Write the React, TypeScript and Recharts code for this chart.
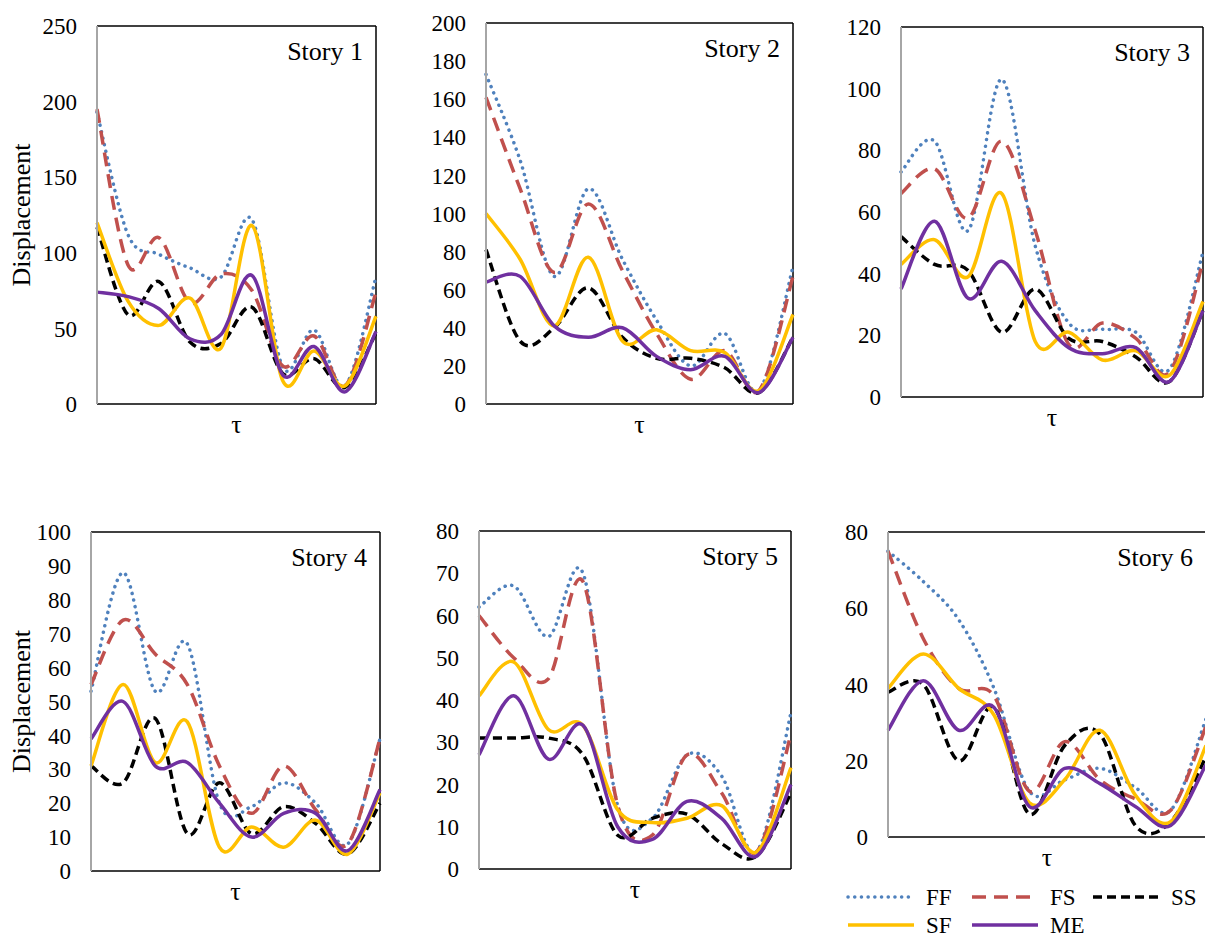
import React from 'react';
import { LineChart, Line, XAxis, YAxis, ReferenceLine } from 'recharts';

const FONT = '"Liberation Serif", "Times New Roman", serif';

const STORIES = ['Story 1', 'Story 2', 'Story 3', 'Story 4', 'Story 5', 'Story 6'];
const SERIES = ['FF', 'FS', 'SS', 'SF', 'ME'];

// values per story (rows), 10 points along τ
const FF = [
  [193, 112, 99, 90, 84, 122, 24, 49, 12, 84],
  [173, 128, 67, 113, 76, 44, 20, 37, 7, 72],
  [73, 83, 54, 103, 49, 24, 22, 21, 9, 47],
  [53, 88, 53, 67, 20, 19, 26, 20, 8, 39],
  [62, 67, 55, 70, 15, 12, 27, 22, 4, 37],
  [75, 67, 57, 39, 12, 15, 18, 13, 7, 31],
];
const FS = [
  [195, 92, 110, 67, 86, 75, 25, 45, 12, 74],
  [161, 113, 69, 105, 70, 37, 13, 28, 7, 67],
  [66, 74, 58, 83, 54, 17, 24, 19, 8, 44],
  [55, 74, 64, 55, 31, 17, 31, 18, 8, 39],
  [60, 50, 45, 68, 15, 8, 27, 18, 4, 32],
  [75, 52, 39, 37, 12, 25, 15, 10, 7, 29],
];
const SS = [
  [117, 59, 81, 41, 40, 64, 20, 30, 11, 47],
  [81, 33, 40, 61, 35, 24, 24, 19, 6, 35],
  [52, 43, 41, 21, 35, 19, 18, 13, 5, 28],
  [31, 26, 45, 11, 26, 11, 19, 14, 5, 20],
  [31, 31, 31, 27, 8, 12, 13, 6, 3, 18],
  [38, 40, 20, 34, 6, 24, 27, 3, 4, 21],
];
const SF = [
  [120, 68, 52, 70, 37, 118, 15, 35, 12, 58],
  [100, 76, 41, 77, 33, 39, 28, 27, 7, 47],
  [43, 51, 39, 66, 18, 21, 12, 15, 7, 31],
  [31, 55, 32, 44, 7, 13, 7, 15, 5, 23],
  [41, 49, 33, 34, 14, 11, 12, 15, 4, 24],
  [39, 48, 39, 32, 9, 15, 28, 11, 4, 24],
];
const ME = [
  [74, 71, 63, 43, 46, 85, 19, 38, 8, 48],
  [64, 67, 41, 35, 40, 25, 18, 25, 6, 35],
  [35, 57, 32, 44, 28, 16, 14, 16, 5, 28],
  [39, 50, 31, 32, 20, 10, 17, 17, 6, 24],
  [27, 41, 26, 34, 10, 7, 16, 12, 3, 20],
  [28, 41, 28, 34, 8, 18, 14, 8, 3, 19],
];

const Y_TICKS = [
  [0, 50, 100, 150, 200, 250],
  [0, 20, 40, 60, 80, 100, 120, 140, 160, 180, 200],
  [0, 20, 40, 60, 80, 100, 120],
  [0, 10, 20, 30, 40, 50, 60, 70, 80, 90, 100],
  [0, 10, 20, 30, 40, 50, 60, 70, 80],
  [0, 20, 40, 60, 80],
];

const VALUES: Record<string, number[][]> = { FF, FS, SS, SF, ME };

const STYLE: Record<string, { stroke: string; dash?: string; cap?: 'round' | 'butt' }> = {
  FF: { stroke: '#4F81BD', dash: '0.1 6.6', cap: 'round' },
  FS: { stroke: '#C0504D', dash: '14 8', cap: 'butt' },
  SS: { stroke: '#000000', dash: '9 5', cap: 'butt' },
  SF: { stroke: '#FFC000' },
  ME: { stroke: '#7030A0' },
};

// plot-area box of every panel, in page pixels
const PANELS = [
  { left: 97, right: 376, top: 26, bottom: 404, yLabel: true },
  { left: 486, right: 793, top: 23, bottom: 404, yLabel: false },
  { left: 901, right: 1203, top: 27, bottom: 397, yLabel: false },
  { left: 91, right: 380, top: 532, bottom: 871, yLabel: true },
  { left: 479, right: 791, top: 531, bottom: 869, yLabel: false },
  { left: 888, right: 1206, top: 532, bottom: 837, yLabel: false },
];

// Excel-like smoothed line (Catmull-Rom through the points)
const smoothCurve = (context: any) => {
  let pts: number[][] = [];
  return {
    areaStart() {},
    areaEnd() {},
    lineStart() {
      pts = [];
    },
    point(x: number, y: number) {
      pts.push([+x, +y]);
    },
    lineEnd() {
      if (!pts.length) return;
      context.moveTo(pts[0][0], pts[0][1]);
      for (let i = 0; i < pts.length - 1; i++) {
        const p0 = pts[i - 1] || pts[i];
        const p1 = pts[i];
        const p2 = pts[i + 1];
        const p3 = pts[i + 2] || p2;
        context.bezierCurveTo(
          p1[0] + (p2[0] - p0[0]) / 6,
          p1[1] + (p2[1] - p0[1]) / 6,
          p2[0] - (p3[0] - p1[0]) / 6,
          p2[1] - (p3[1] - p1[1]) / 6,
          p2[0],
          p2[1]
        );
      }
    },
  };
};

const buildRows = (s: number) =>
  FF[s].map((_, i) => {
    const row: Record<string, number> = { i };
    SERIES.forEach((k) => {
      row[k] = VALUES[k][s][i];
    });
    return row;
  });

const StoryPanel = ({ index }: { index: number }) => {
  const p = PANELS[index];
  const yAxisW = p.yLabel ? p.left : 60;
  const mt = 15;
  const mr = 10;
  const xh = 40;
  const width = yAxisW + (p.right - p.left) + mr;
  const height = mt + (p.bottom - p.top) + xh;
  const ticks = Y_TICKS[index];
  const yMax = ticks[ticks.length - 1];

  return (
    <div style={{ position: 'absolute', left: p.left - yAxisW, top: p.top - mt, width, height }}>
      <LineChart width={width} height={height} data={buildRows(index)} margin={{ top: mt, right: mr, left: 0, bottom: 0 }}>
        <XAxis
          type="number"
          dataKey="i"
          domain={[0, 9]}
          tick={false}
          tickLine={false}
          axisLine={{ stroke: '#000', strokeWidth: 1.5 }}
          height={xh}
          label={{ value: 'τ', position: 'insideTop', offset: 11, fill: '#000', fontSize: 26, fontFamily: FONT }}
        />
        <YAxis
          type="number"
          domain={[0, yMax]}
          ticks={ticks}
          interval={0}
          width={yAxisW}
          tickLine={false}
          tickSize={0}
          tickMargin={20}
          axisLine={{ stroke: '#A6A6A6', strokeWidth: 2 }}
          tick={{ fill: '#000', fontSize: 23, fontFamily: FONT }}
          label={
            p.yLabel
              ? {
                  value: 'Displacement',
                  angle: -90,
                  position: 'insideLeft',
                  offset: 21,
                  fill: '#000',
                  fontSize: 26,
                  fontFamily: FONT,
                  style: { textAnchor: 'middle' },
                }
              : undefined
          }
        />
        <ReferenceLine y={yMax} stroke="#000" strokeWidth={1.5} />
        <ReferenceLine x={9} stroke="#000" strokeWidth={1.5} />
        {SERIES.map((k) => (
          <Line
            key={k}
            dataKey={k}
            type={smoothCurve as any}
            stroke={STYLE[k].stroke}
            strokeWidth={3.5}
            strokeDasharray={STYLE[k].dash}
            strokeLinecap={STYLE[k].cap || 'butt'}
            dot={false}
            activeDot={false}
            isAnimationActive={false}
          />
        ))}
      </LineChart>
      <div
        style={{
          position: 'absolute',
          right: mr + 13,
          top: mt + 26 - 13,
          fontSize: 26,
          lineHeight: '26px',
          color: '#000',
          fontFamily: FONT,
          whiteSpace: 'nowrap',
        }}
      >
        {STORIES[index]}
      </div>
    </div>
  );
};

const LEGEND_ROWS = [
  ['FF', 'FS', 'SS'],
  ['SF', 'ME'],
];

const SeriesLegend = () => (
  <svg width={365} height={59} style={{ position: 'absolute', left: 840, top: 880 }}>
    {LEGEND_ROWS.map((row, r) =>
      row.map((k, c) => {
        const y = r === 0 ? 17 : 45;
        const x0 = [8, 132, 253][c];
        const s = STYLE[k];
        return (
          <g key={k}>
            <line
              x1={x0}
              x2={x0 + 66}
              y1={y}
              y2={y}
              stroke={s.stroke}
              strokeWidth={3.5}
              strokeDasharray={s.dash}
              strokeLinecap={s.cap || 'butt'}
            />
            <text x={x0 + 78} y={y + 8} fontSize={23} fontFamily={FONT} fill="#000">
              {k}
            </text>
          </g>
        );
      })
    )}
  </svg>
);

export default function App() {
  return (
    <div
      style={{
        position: 'absolute',
        left: 0,
        top: 0,
        width: 1205,
        height: 939,
        overflow: 'hidden',
        background: '#fff',
        fontFamily: FONT,
      }}
    >
      {STORIES.map((_, i) => (
        <StoryPanel key={i} index={i} />
      ))}
      <SeriesLegend />
    </div>
  );
}
